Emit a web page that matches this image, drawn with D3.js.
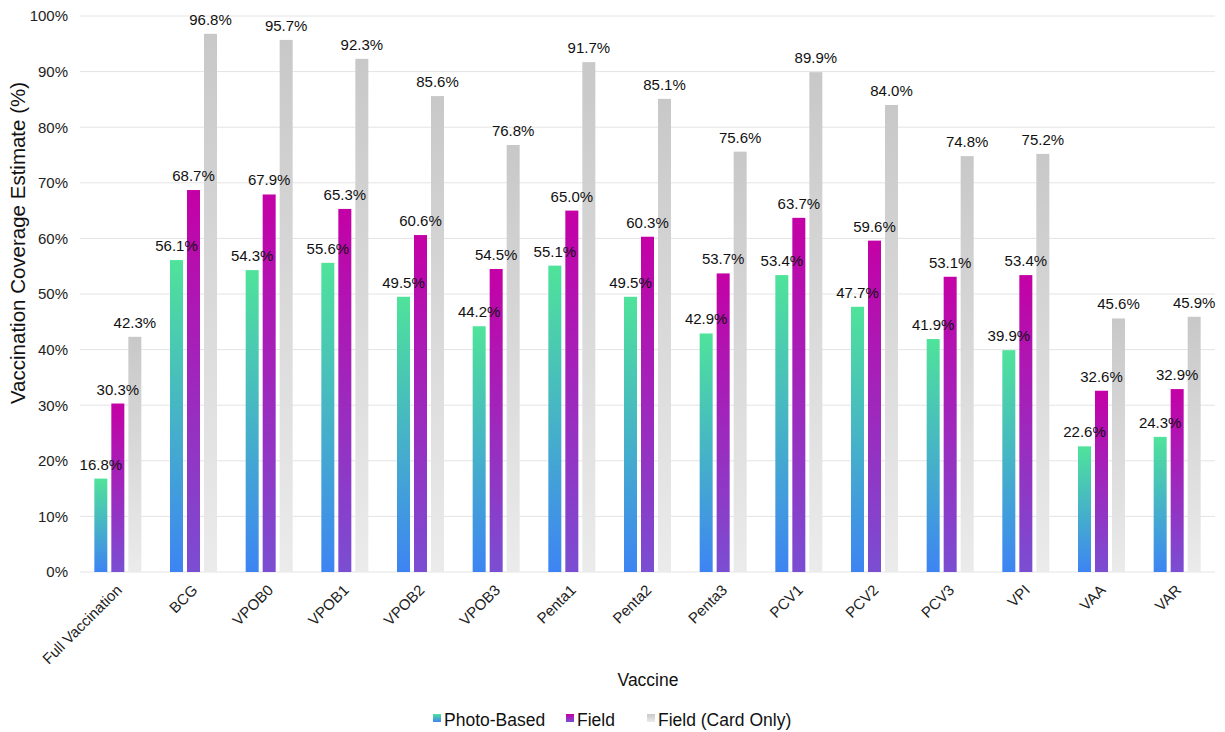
<!DOCTYPE html>
<html><head><meta charset="utf-8">
<script src="https://cdn.jsdelivr.net/npm/d3@7"></script>
<style>body{margin:0;background:#fff;font-family:"Liberation Sans",Arial,sans-serif;}</style>
</head><body><svg id="c" width="1225" height="732"></svg>
<script>
const categories = ["Full Vaccination","BCG","VPOB0","VPOB1","VPOB2","VPOB3","Penta1","Penta2","Penta3","PCV1","PCV2","PCV3","VPI","VAA","VAR"];
const photoBased = [16.8,56.1,54.3,55.6,49.5,44.2,55.1,49.5,42.9,53.4,47.7,41.9,39.9,22.6,24.3];
const field = [30.3,68.7,67.9,65.3,60.6,54.5,65.0,60.3,53.7,63.7,59.6,53.1,53.4,32.6,32.9];
const fieldCardOnly = [42.3,96.8,95.7,92.3,85.6,76.8,91.7,85.1,75.6,89.9,84.0,74.8,75.2,45.6,45.9];
const seriesNames = ["Photo-Based","Field","Field (Card Only)"];
const yTicks = [0,10,20,30,40,50,60,70,80,90,100];

const series = [
  {name: seriesNames[0], values: photoBased, top: "#4fe39a", bottom: "#3d84f3"},
  {name: seriesNames[1], values: field, top: "#c400a6", bottom: "#7a4ed2"},
  {name: seriesNames[2], values: fieldCardOnly, top: "#c8c8c8", bottom: "#ebebeb"}
];

const FONT = "Liberation Sans, Arial, sans-serif";
const svg = d3.select("#c");
const W = 1225;
const m = {l:80, r:10};
const x = d3.scaleBand().domain(categories).range([m.l, W - m.r]).paddingInner(0).paddingOuter(0);
const y = d3.scaleLinear().domain([0,100]).range([572, 16]);
const bw = 13, gap = 4;

const defs = svg.append("defs");
series.forEach((s,i)=>{
  const g = defs.append("linearGradient").attr("id","g"+i).attr("x1",0).attr("y1",1).attr("x2",0).attr("y2",0);
  g.append("stop").attr("offset","0%").attr("stop-color",s.bottom);
  g.append("stop").attr("offset","100%").attr("stop-color",s.top);
});

// grid
svg.append("g").selectAll("line").data(yTicks).join("line")
  .attr("x1", m.l).attr("x2", W - m.r)
  .attr("y1", d=>y(d)).attr("y2", d=>y(d))
  .attr("stroke", "#e4e4e4").attr("stroke-width", 1);

// y axis labels
const yAxis = d3.axisLeft(y).tickValues(yTicks).tickFormat(d=>d+"%").tickSize(0).tickPadding(12);
const ya = svg.append("g").attr("transform",`translate(${m.l},0)`).call(yAxis);
ya.select(".domain").remove();
ya.selectAll("text").attr("font-size",15).attr("fill","#222").attr("font-family",FONT);

// x axis
const xAxis = d3.axisBottom(x).tickSize(0).tickPadding(0);
const xa = svg.append("g").attr("transform",`translate(0,${y(0)})`).call(xAxis);
xa.select(".domain").remove();
xa.selectAll("text").attr("font-size",15).attr("fill","#222").attr("font-family",FONT)
  .attr("text-anchor","end").attr("x",0).attr("y",0).attr("dy","0")
  .attr("transform","translate(5,19) rotate(-45)");

// bars
series.forEach((s,i)=>{
  const off = (i-1)*(bw+gap) - bw/2;
  svg.append("g").selectAll("rect").data(s.values).join("rect")
    .attr("x",(d,j)=>x(categories[j]) + x.bandwidth()/2 + off)
    .attr("y",d=>y(d)).attr("width",bw).attr("height",d=>y(0)-y(d))
    .attr("fill","url(#g"+i+")");
});
// labels
series.forEach((s,i)=>{
  const off = (i-1)*(bw+gap);
  svg.append("g").selectAll("text").data(s.values).join("text")
    .attr("x",(d,j)=>x(categories[j]) + x.bandwidth()/2 + off)
    .attr("y",d=>y(d)-9)
    .attr("text-anchor","middle").attr("font-size",15).attr("fill","#111").attr("font-family",FONT)
    .text(d=>d.toFixed(1)+"%");
});

// axis titles
svg.append("text").attr("transform",`translate(25,243) rotate(-90)`).attr("text-anchor","middle")
  .attr("font-size",20.5).attr("fill","#111").attr("font-family",FONT).text("Vaccination Coverage Estimate (%)");
svg.append("text").attr("x",648).attr("y",686).attr("text-anchor","middle")
  .attr("font-size",17.5).attr("fill","#111").attr("font-family",FONT).text("Vaccine");

// legend
const legX = [433, 566, 647];
const lg = svg.append("g");
series.forEach((s,i)=>{
  lg.append("rect").attr("x",legX[i]).attr("y",714).attr("width",8).attr("height",8).attr("fill","url(#g"+i+")");
  lg.append("text").attr("x",legX[i]+11).attr("y",726).attr("font-size",17.5).attr("fill","#111").attr("font-family",FONT).text(s.name);
});
</script></body></html>
